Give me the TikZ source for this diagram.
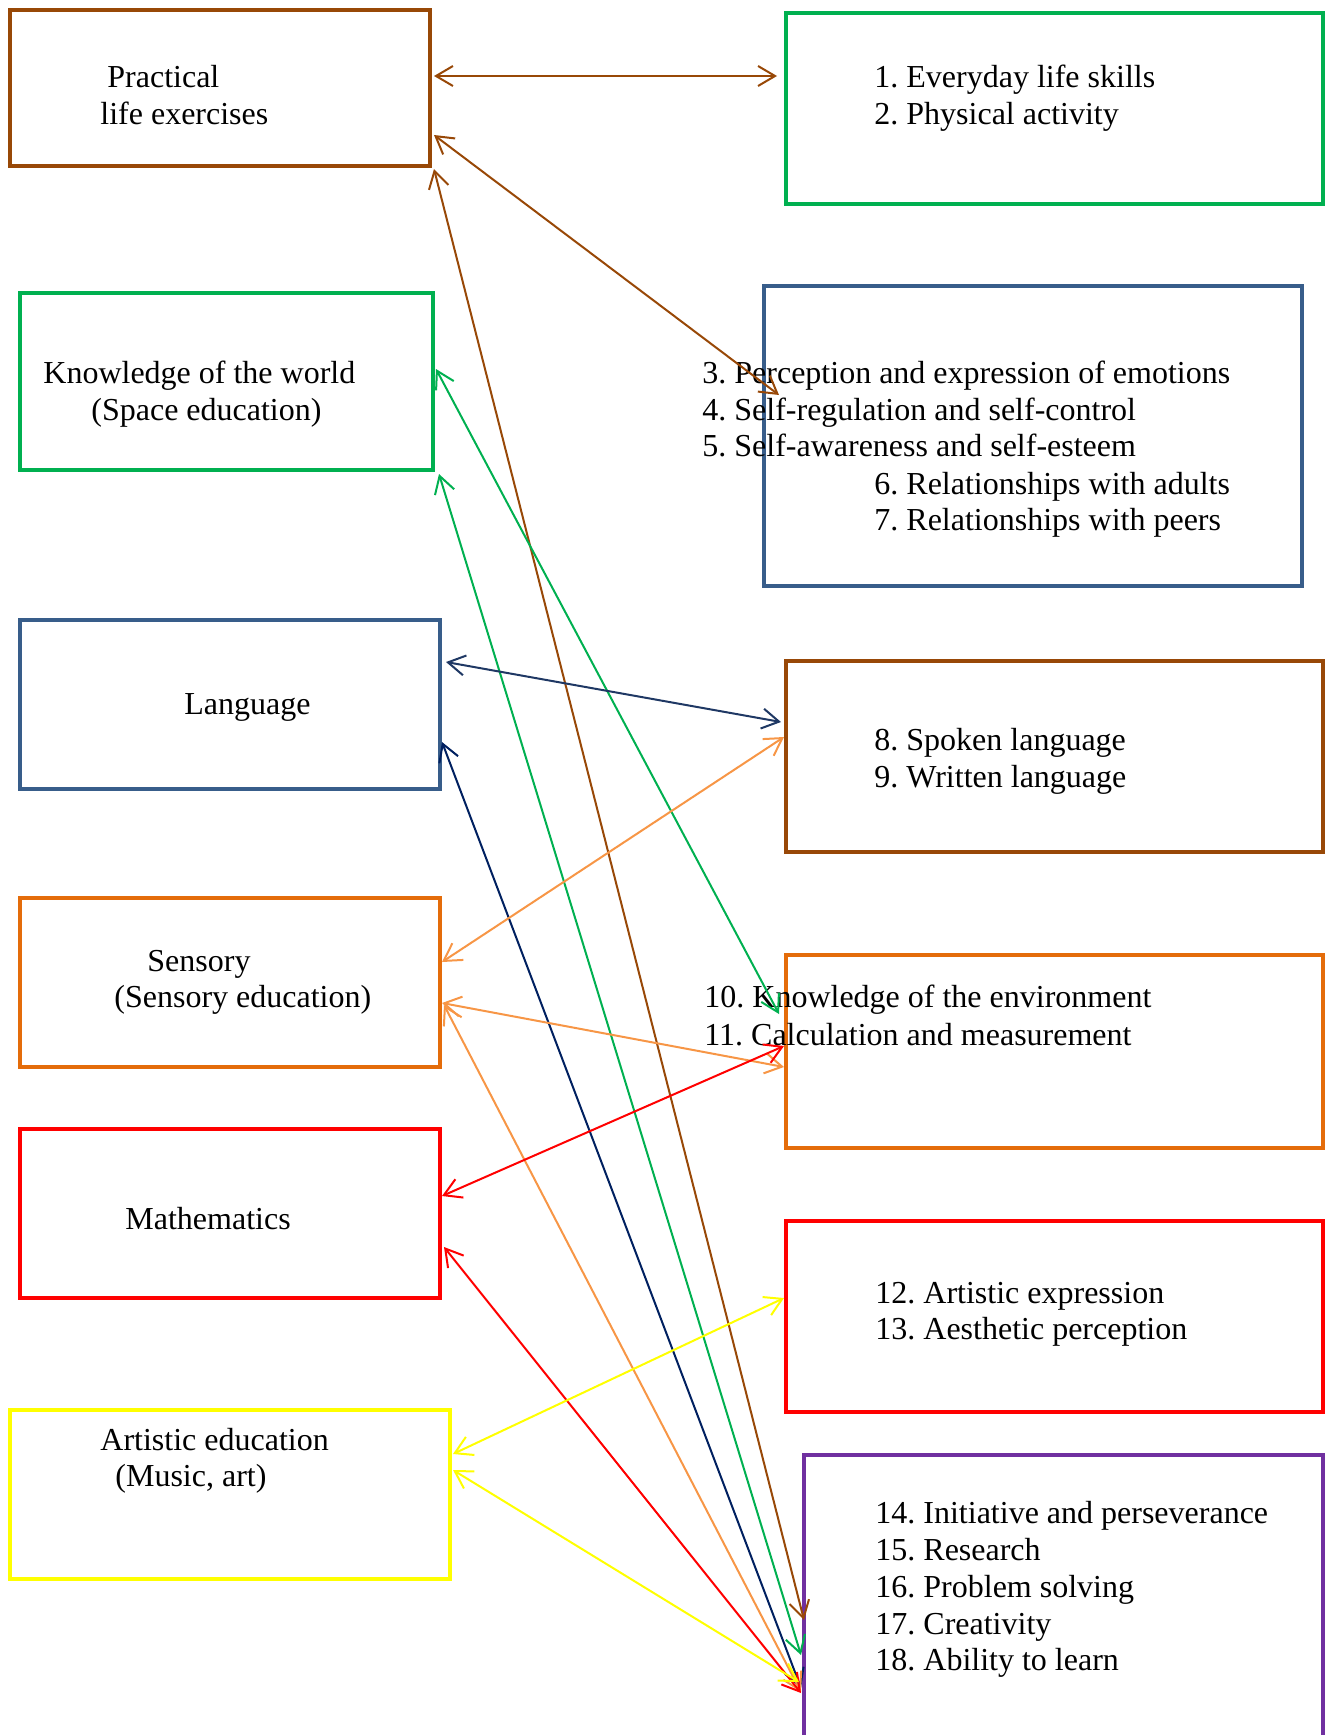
\documentclass[tikz,border=0pt]{standalone}
\usepackage{fontspec}
\setmainfont{Liberation Serif}
\usetikzlibrary{arrows.meta,fit}
\frenchspacing
\definecolor{brownc}{RGB}{152,72,7}
\definecolor{greenc}{RGB}{0,176,80}
\definecolor{bluec}{RGB}{56,93,138}
\definecolor{orangec}{RGB}{228,108,10}
\definecolor{redc}{RGB}{255,0,0}
\definecolor{yellowc}{RGB}{255,255,0}
\definecolor{purplec}{RGB}{112,48,160}
\definecolor{navya}{RGB}{31,56,100}
\definecolor{navyb}{RGB}{0,32,96}
\definecolor{lorange}{RGB}{247,150,70}
\tikzset{
  box/.style={draw, line width=2.4pt, inner sep=0pt},
  conn/.style={line width=1pt, {Straight Barb[length=8.5pt,width=10pt]}-{Straight Barb[length=8.5pt,width=10pt]}},
  lbl/.style={anchor=base west, inner sep=0pt, font=\fontsize{16}{18.4}\selectfont},
}
\begin{document}
\begin{tikzpicture}[x=0.5pt,y=-0.5pt]
\useasboundingbox (0,0) rectangle (1326,1735);
\clip (0,0) rectangle (1326,1735);
% boxes
\node[box, draw=brownc, fit={(10,10) (430,166)}] (pl) {};
\node[box, draw=greenc, fit={(786,13) (1323,204)}] (ra) {};
\node[box, draw=greenc, fit={(20,293) (433,470)}] (kw) {};
\node[box, draw=bluec, fit={(764,286) (1302,586)}] (rb) {};
\node[box, draw=bluec, fit={(20,620) (440,789)}] (lg) {};
\node[box, draw=brownc, fit={(786,661) (1323,852)}] (rc) {};
\node[box, draw=orangec, fit={(20,898) (440,1067)}] (se) {};
\node[box, draw=orangec, fit={(786,955) (1323,1148)}] (rd) {};
\node[box, draw=redc, fit={(20,1129) (440,1298)}] (ma) {};
\node[box, draw=redc, fit={(786,1221) (1323,1412)}] (re) {};
\node[box, draw=yellowc, fit={(10,1410) (450,1579)}] (ar) {};
\node[box, draw=purplec, fit={(804,1455) (1323,1800)}] (rf) {};
% texts
\node[lbl] (pl1) at (107,87) {Practical};
\node[lbl] (pl2) at (100,124) {life exercises};
\node[lbl] (ra1) at (874,87) {1. Everyday life skills};
\node[lbl] (ra2) at (874,124) {2. Physical activity};
\node[lbl] (kw1) at (43,383) {Knowledge of the world};
\node[lbl] (kw2) at (91,420) {(Space education)};
\node[lbl] (rb1) at (702,383) {3. Perception and expression of emotions};
\node[lbl] (rb2) at (702,420) {4. Self-regulation and self-control};
\node[lbl] (rb3) at (702,456) {5. Self-awareness and self-esteem};
\node[lbl] (rb4) at (874,494) {6. Relationships with adults};
\node[lbl] (rb5) at (874,530) {7. Relationships with peers};
\node[lbl] (lg1) at (184,714) {Language};
\node[lbl] (rc1) at (874,750) {8. Spoken language};
\node[lbl] (rc2) at (874,787) {9. Written language};
\node[lbl] (se1) at (147,971) {Sensory};
\node[lbl] (se2) at (114,1007) {(Sensory education)};
\node[lbl] (rd1) at (704,1007) {10. Knowledge of the environment};
\node[lbl] (rd2) at (704,1045) {11. Calculation and measurement};
\node[lbl] (ma1) at (125,1229) {Mathematics};
\node[lbl] (re1) at (875,1303) {12. Artistic expression};
\node[lbl] (re2) at (875,1339) {13. Aesthetic perception};
\node[lbl] (ar1) at (100,1450) {Artistic education};
\node[lbl] (ar2) at (115,1486) {(Music, art)};
\node[lbl] (rf1) at (875,1523) {14. Initiative and perseverance};
\node[lbl] (rf2) at (875,1560) {15. Research};
\node[lbl] (rf3) at (875,1597) {16. Problem solving};
\node[lbl] (rf4) at (875,1634) {17. Creativity};
\node[lbl] (rf5) at (875,1670) {18. Ability to learn};
% connector end points
\coordinate (c1a) at (434,76);   \coordinate (c1b) at (777,76);
\coordinate (c2a) at (434,135);  \coordinate (c2b) at (779,395);
\coordinate (c3a) at (434,169);  \coordinate (c3b) at (804,1620);
\coordinate (c4a) at (436,369);  \coordinate (c4b) at (779,1014);
\coordinate (c5a) at (439,474);  \coordinate (c5b) at (801,1655);
\coordinate (c6a) at (446,662);  \coordinate (c6b) at (781,722);
\coordinate (c7a) at (442,742);  \coordinate (c7b) at (801,1688);
\coordinate (c8a) at (442,962);  \coordinate (c8b) at (784,737);
\coordinate (c9a) at (442,1003); \coordinate (c9b) at (784,1067);
\coordinate (c10a) at (444,1005); \coordinate (c10b) at (801,1692);
\coordinate (c11a) at (442,1196); \coordinate (c11b) at (784,1046);
\coordinate (c12a) at (444,1247); \coordinate (c12b) at (801,1693);
\coordinate (c13a) at (453,1454); \coordinate (c13b) at (784,1298);
\coordinate (c14a) at (453,1470); \coordinate (c14b) at (799,1682);
% connectors
\draw[conn, brownc] (c1a) -- (c1b);
\draw[conn, brownc] (c2a) -- (c2b);
\draw[conn, brownc] (c3a) -- (c3b);
\draw[conn, greenc] (c4a) -- (c4b);
\draw[conn, greenc] (c5a) -- (c5b);
\draw[conn, navya] (c6a) -- (c6b);
\draw[conn, navyb] (c7a) -- (c7b);
\draw[conn, lorange] (c8a) -- (c8b);
\draw[conn, lorange] (c9a) -- (c9b);
\draw[conn, lorange] (c10a) -- (c10b);
\draw[conn, redc] (c11a) -- (c11b);
\draw[conn, redc] (c12a) -- (c12b);
\draw[conn, yellowc] (c13a) -- (c13b);
\draw[conn, yellowc] (c14a) -- (c14b);
\end{tikzpicture}
\end{document}
